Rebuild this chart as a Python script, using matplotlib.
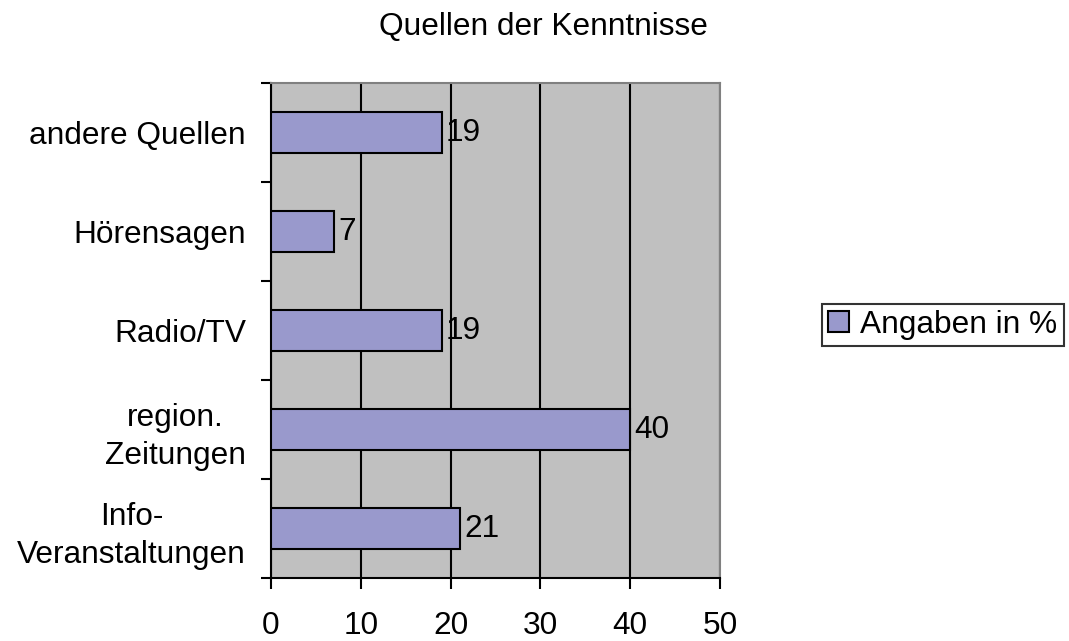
import matplotlib
matplotlib.use("Agg")
import matplotlib.pyplot as plt
import numpy as np

# data, bottom to top
categories = ["Info-\nVeranstaltungen", "region.\nZeitungen", "Radio/TV", "Hörensagen", "andere Quellen"]
values = [21, 40, 19, 7, 19]
xticks = [0, 10, 20, 30, 40, 50]

FS = 22.8
plt.rcParams["font.family"] = ["Liberation Sans", "DejaVu Sans"]

fig = plt.figure(figsize=(10.69, 6.41), dpi=100)
fig.patch.set_facecolor("white")
ax = fig.add_axes([0.2535, 0.0983, 0.42, 0.772])
ax.set_facecolor("#C0C0C0")

y = np.arange(len(categories))
bars = ax.barh(y, values, height=0.41, color="#9999CC", edgecolor="black",
               linewidth=1.5, label="Angaben in %", zorder=3)

for yi, v in zip(y, values):
    ax.text(v + 0.5, yi, str(v), va="center", ha="left", fontsize=FS, zorder=4)

ax.set_xlim(0, 50)
ax.set_ylim(-0.5, len(categories) - 0.5)
ax.set_xticks(xticks)
ax.set_xticklabels([str(t) for t in xticks], fontsize=FS)
ax.xaxis.grid(True, color="black", linewidth=1.5, zorder=1)
ax.tick_params(axis="x", length=8, width=1.5, pad=16)

# category boundaries as ticks, labels at centers
ax.set_yticks(np.arange(-0.5, len(categories)), labels=[""] * (len(categories) + 1))
ax.set_yticks(y, labels=categories, minor=True)
ax.tick_params(axis="y", which="major", length=7, width=1.5)
ax.tick_params(axis="y", which="minor", length=0, pad=18, labelsize=FS)
for lbl in ax.get_yticklabels(minor=True):
    lbl.set_horizontalalignment("right")
    lbl.set_multialignment("center")
    lbl.set_linespacing(1.35)

for side in ["left", "bottom"]:
    ax.spines[side].set_linewidth(1.5)
    ax.spines[side].set_color("black")
for side in ["top", "right"]:
    ax.spines[side].set_color("#808080")
    ax.spines[side].set_linewidth(1.5)

fig.text(0.508, 0.945, "Quellen der Kenntnisse", ha="center", va="baseline", fontsize=FS)

leg = fig.legend(handles=[bars], labels=["Angaben in %"], loc="center left",
                 bbox_to_anchor=(0.769, 0.493), fontsize=FS, frameon=True,
                 fancybox=False, edgecolor="black", handlelength=0.65,
                 handleheight=0.65, handletextpad=0.35, borderpad=0.2,
                 borderaxespad=0)
leg.get_frame().set_linewidth(1.5)

fig.savefig("out.png", dpi=100, facecolor="white")
